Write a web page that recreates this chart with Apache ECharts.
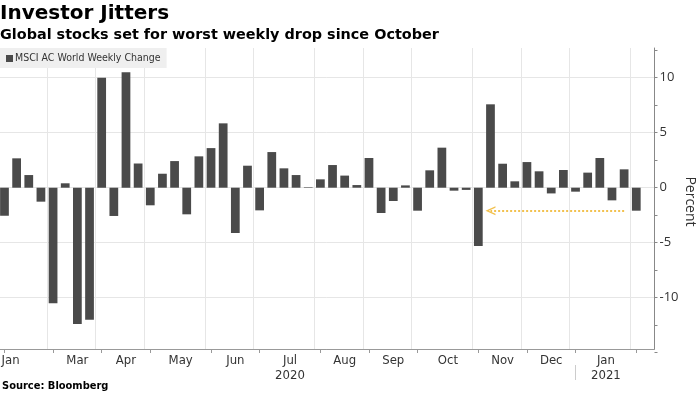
<!DOCTYPE html>
<html>
<head>
<meta charset="utf-8">
<script src="https://cdn.jsdelivr.net/npm/echarts@6/dist/echarts.min.js"></script>
<style>
  html, body { margin: 0; padding: 0; background: #fff; }
  #chart { width: 700px; height: 394px; }
</style>
</head>
<body>
<div id="chart"></div>
<script>
// ---- Data ----
const weeks = [
  '2020-01-31','2020-02-07','2020-02-14','2020-02-21','2020-02-28','2020-03-06','2020-03-13','2020-03-20',
  '2020-03-27','2020-04-03','2020-04-10','2020-04-17','2020-04-24','2020-05-01','2020-05-08','2020-05-15',
  '2020-05-22','2020-05-29','2020-06-05','2020-06-12','2020-06-19','2020-06-26','2020-07-03','2020-07-10',
  '2020-07-17','2020-07-24','2020-07-31','2020-08-07','2020-08-14','2020-08-21','2020-08-28','2020-09-04',
  '2020-09-11','2020-09-18','2020-09-25','2020-10-02','2020-10-09','2020-10-16','2020-10-23','2020-10-30',
  '2020-11-06','2020-11-13','2020-11-20','2020-11-27','2020-12-04','2020-12-11','2020-12-18','2020-12-25',
  '2021-01-01','2021-01-08','2021-01-15','2021-01-22','2021-01-29','2021-02-05'
];
const weeklyChange = [
  -2.55, 2.67, 1.15, -1.27, -10.5, 0.4, -12.4, -12.0,
  10.0, -2.57, 10.5, 2.2, -1.6, 1.27, 2.42, -2.42,
  2.85, 3.6, 5.85, -4.12, 2.0, -2.06, 3.24, 1.76,
  1.15, 0.05, 0.76, 2.06, 1.1, 0.24, 2.7, -2.3,
  -1.21, 0.21, -2.09, 1.58, 3.64, -0.27, -0.2, -5.3,
  7.58, 2.18, 0.58, 2.33, 1.49, -0.52, 1.61, -0.36,
  1.37, 2.7, -1.15, 1.67, -2.09, null
];
const monthTickWeeks = ['2020-01-31','2020-02-28','2020-03-27','2020-04-24','2020-05-29','2020-06-26',
  '2020-07-31','2020-08-28','2020-09-25','2020-10-30','2020-11-27','2020-12-25','2021-01-29'];
const yearBreakWeek = '2020-12-25';
const monthLabels = ['Jan','Mar','Apr','May','Jun','Jul\n2020','Aug','Sep','Oct','Nov','Dec','Jan\n2021'];
const monthLabelPos = [0.5, 6, 10, 14.5, 19, 23.5, 28, 32, 36.5, 41, 45, 49.5];
const yTickLabels = [-10, -5, 0, 5, 10];
const arrowFromWeek = '2021-01-22';
const arrowToWeek = '2020-11-06';
const arrowLevel = -2.1;

const seriesName = 'MSCI AC World Weekly Change';
const labelMap = {};
monthLabelPos.forEach((p, i) => { labelMap[String(p)] = monthLabels[i]; });

const condensed = '"DejaVu Sans Condensed", "DejaVu Sans", sans-serif';
const chart = echarts.init(document.getElementById('chart'), null, { renderer: 'canvas' });

chart.setOption({
  animation: false,
  backgroundColor: '#ffffff',
  title: [
    { text: 'Investor Jitters', left: 0, top: 4, padding: 0,
      textStyle: { fontFamily: '"DejaVu Sans", sans-serif', fontWeight: 'bold', fontSize: 20, color: '#000' } },
    { text: 'Global stocks set for worst weekly drop since October', left: 0, top: 28, padding: 0,
      textStyle: { fontFamily: '"DejaVu Sans", sans-serif', fontWeight: 'bold', fontSize: 14.4, color: '#000' } },
    { text: 'Source: Bloomberg', left: 2, top: 381, padding: 0,
      textStyle: { fontFamily: condensed, fontWeight: 'bold', fontSize: 11, color: '#000' } }
  ],
  legend: {
    left: 0, top: 48, padding: [5, 6, 4, 6],
    backgroundColor: '#efefef',
    icon: 'rect', itemWidth: 7, itemHeight: 7,
    textStyle: { fontFamily: condensed, fontSize: 10.5, color: '#333', padding: [0, 0, 0, -3] },
    data: [seriesName],
    selectedMode: false
  },
  grid: [
    // grid 0: bars and value scale (-15 .. 12.5)
    { left: -1.6, right: 45.5, top: 50.2, bottom: 41.3, containLabel: false, outerBoundsMode: 'none' },
    // grid 1: frame (axis lines, month ticks, vertical grid lines)
    { left: -1.6, right: 45.5, top: 48, bottom: 45, containLabel: false, outerBoundsMode: 'none' }
  ],
  xAxis: [
    { // 0: bars
      gridIndex: 0, type: 'category', data: weeks, boundaryGap: true,
      axisLine: { show: false, onZero: false }, axisTick: { show: false },
      splitLine: { show: false }, axisLabel: { show: false }
    },
    { // 1: frame axis with month ticks
      gridIndex: 1, type: 'category', data: weeks, boundaryGap: true,
      axisLine: { show: true, onZero: false, lineStyle: { color: '#999', width: 1 } },
      axisTick: { show: true, alignWithLabel: true, length: 4, lineStyle: { color: '#999' },
        interval: (i, v) => monthTickWeeks.includes(v) },
      splitLine: { show: true, lineStyle: { color: '#e6e6e6', width: 1 },
        interval: (i, v) => monthTickWeeks.includes(v) },
      axisLabel: { show: false }
    },
    { // 2: month labels placed between ticks
      gridIndex: 1, type: 'value', min: -0.5, max: 53.5, interval: 0.5, position: 'bottom',
      axisLine: { show: false, onZero: false }, axisTick: { show: false }, splitLine: { show: false },
      axisLabel: { show: true, margin: 4, fontFamily: condensed, fontSize: 13, color: '#333', lineHeight: 15,
        showMinLabel: true, showMaxLabel: true, hideOverlap: false,
        formatter: v => labelMap[String(Math.round(v * 2) / 2)] || '' }
    },
    { // 3: year separator
      gridIndex: 1, type: 'category', data: weeks, boundaryGap: true, position: 'bottom', offset: 16,
      axisLine: { show: false, onZero: false },
      axisTick: { show: true, alignWithLabel: true, length: 15, lineStyle: { color: '#ccc' },
        interval: (i, v) => v === yearBreakWeek },
      splitLine: { show: false }, axisLabel: { show: false }
    }
  ],
  yAxis: [
    { // 0: ticks + labels + name
      gridIndex: 0, type: 'value', position: 'right', min: -15, max: 12.5, interval: 2.5,
      axisLine: { show: false, onZero: false },
      axisTick: { show: true, length: 3, lineStyle: { color: '#888' } },
      splitLine: { show: false },
      axisLabel: { show: true, margin: 5, fontFamily: '"Open Sans", sans-serif', fontSize: 13, color: '#333',
        formatter: v => yTickLabels.includes(Math.round(v * 100) / 100) ? String(v) : '' },
      name: 'Percent', nameLocation: 'middle', nameRotate: -90, nameGap: 28, nameMoveOverlap: false,
      nameTextStyle: { fontFamily: '"Open Sans", sans-serif', fontSize: 14, color: '#333' }
    },
    { // 1: horizontal grid lines
      gridIndex: 0, type: 'value', position: 'right', min: -15, max: 12.5, interval: 5,
      axisLine: { show: false, onZero: false }, axisTick: { show: false }, axisLabel: { show: false },
      splitLine: { show: true, showMinLine: false, showMaxLine: false, lineStyle: { color: '#e6e6e6' } }
    },
    { // 2: frame axis line
      gridIndex: 1, type: 'value', position: 'right', min: 0, max: 1,
      axisLine: { show: true, onZero: false, lineStyle: { color: '#888' } },
      axisTick: { show: false }, axisLabel: { show: false }, splitLine: { show: false }
    }
  ],
  series: [{
    name: seriesName, type: 'bar', data: weeklyChange, barWidth: '72%',
    xAxisIndex: 0, yAxisIndex: 0,
    itemStyle: { color: '#4a4a4a' },
    silent: true,
    markLine: {
      silent: true, animation: false,
      symbol: ['none', 'path://M5,0 L10,10 L8.4,10 L5,3.2 L1.6,10 L0,10 Z'], symbolSize: [9, 10],
      label: { show: false },
      lineStyle: { color: '#f2c14e', type: 'dotted', width: 2 },
      data: [[ { coord: [arrowFromWeek, arrowLevel] }, { coord: [arrowToWeek, arrowLevel] } ]]
    }
  }]
});
</script>
</body>
</html>
